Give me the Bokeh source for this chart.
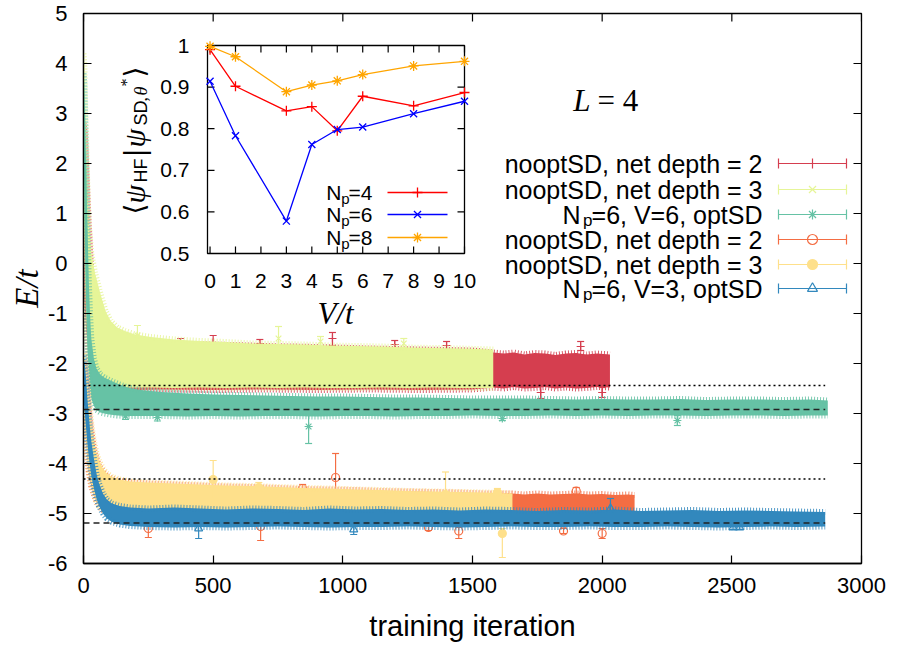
import numpy as np
from bokeh.plotting import figure
from bokeh.models import Range1d, FixedTicker
from bokeh.core.properties import value
from bokeh.embed import file_html
from bokeh.resources import INLINE

# ---------------- data ----------------
# main axes
XTICKS = [0, 500, 1000, 1500, 2000, 2500, 3000]
YTICKS = [-6, -5, -4, -3, -2, -1, 0, 1, 2, 3, 4, 5]

# series envelopes (training iteration, upper / lower edge of the noisy band)
A_IT = [0, 5, 10, 20, 30, 45, 60, 80, 110, 150, 200, 300, 500, 700, 900, 1100, 1300, 1500, 1580, 1620,
        1660, 1700, 1740, 1780, 1820, 1860, 1900, 1940, 1980, 2030]
A_HI = [2.8, 2.6, 2.0, 0.8, -0.2, -0.8, -1.1, -1.3, -1.42, -1.5, -1.55, -1.6, -1.62, -1.65, -1.67, -1.7, -1.72, -1.74, -1.78, -1.8,
        -1.78, -1.82, -1.79, -1.8, -1.83, -1.8, -1.79, -1.82, -1.8, -1.82]
A_LO = [-0.5, -0.9, -1.3, -1.8, -2.1, -2.3, -2.42, -2.48, -2.5, -2.52, -2.53, -2.52, -2.53, -2.52, -2.53, -2.52, -2.53, -2.52, -2.48, -2.5,
        -2.47, -2.5, -2.49, -2.47, -2.5, -2.48, -2.5, -2.49, -2.47, -2.48]

B_IT = [0, 3, 6, 10, 15, 20, 30, 45, 65, 85, 105, 130, 160, 200, 260, 350, 450, 550, 650, 750,
        850, 950, 1050, 1150, 1250, 1350, 1450, 1580]
B_HI = [4.2, 4.0, 3.3, 2.5, 1.5, 0.8, 0.2, -0.2, -0.6, -0.95, -1.15, -1.28, -1.35, -1.42, -1.47, -1.52, -1.55, -1.57, -1.6, -1.61,
        -1.62, -1.64, -1.65, -1.66, -1.68, -1.69, -1.7, -1.72]
B_LO = [1.5, 0.5, -0.3, -1.0, -1.5, -1.8, -2.1, -2.3, -2.4, -2.44, -2.46, -2.47, -2.48, -2.48, -2.48, -2.49, -2.48, -2.49, -2.48, -2.49,
        -2.48, -2.49, -2.49, -2.48, -2.49, -2.48, -2.49, -2.49]

C_IT = [0, 3, 6, 10, 15, 20, 25, 30, 40, 50, 65, 80, 100, 130, 170, 220, 300, 400, 500, 600,
        700, 800, 900, 1000, 1100, 1200, 1300, 1400, 1500, 1600, 1700, 1800, 1900, 2000, 2100, 2200, 2300, 2400, 2500, 2600,
        2700, 2800, 2870]
C_HI = [3.8, 3.6, 3.0, 2.0, 0.8, -0.3, -1.0, -1.5, -1.9, -2.1, -2.22, -2.28, -2.33, -2.4, -2.48, -2.53, -2.57, -2.6, -2.62, -2.63,
        -2.64, -2.65, -2.66, -2.66, -2.67, -2.68, -2.68, -2.69, -2.7, -2.7, -2.7, -2.71, -2.72, -2.71, -2.72, -2.72, -2.71, -2.73, -2.72, -2.72,
        -2.73, -2.72, -2.74]
C_LO = [2.2, 1.5, 0.3, -0.8, -1.7, -2.2, -2.5, -2.7, -2.85, -2.93, -2.98, -3.0, -3.02, -3.04, -3.05, -3.05, -3.05, -3.06, -3.05, -3.06,
        -3.05, -3.05, -3.06, -3.05, -3.05, -3.06, -3.05, -3.05, -3.04, -3.05, -3.05, -3.04, -3.05, -3.04, -3.05, -3.04, -3.04, -3.05, -3.04, -3.04,
        -3.05, -3.04, -3.04]

D_IT = [0, 5, 10, 15, 20, 30, 40, 50, 60, 75, 90, 110, 140, 180, 250, 350, 450, 550, 650, 750,
        850, 950, 1050, 1150, 1250, 1350, 1450, 1550, 1654, 1700, 1750, 1800, 1850, 1900, 1950, 2000, 2050, 2100, 2125]
D_HI = [-1.95, -2.1, -2.3, -2.6, -2.9, -3.35, -3.7, -3.9, -4.05, -4.15, -4.25, -4.3, -4.35, -4.38, -4.4, -4.42, -4.44, -4.46, -4.47, -4.49,
        -4.51, -4.52, -4.53, -4.55, -4.56, -4.57, -4.58, -4.6, -4.6, -4.62, -4.6, -4.62, -4.61, -4.6, -4.62, -4.61, -4.63, -4.62, -4.63]
D_LO = [-2.95, -3.25, -3.55, -3.85, -4.15, -4.45, -4.62, -4.77, -4.86, -4.93, -4.97, -5.0, -5.0, -5.0, -5.0, -5.0, -5.0, -5.0, -5.0, -5.0,
        -5.0, -5.0, -5.0, -5.0, -5.0, -5.0, -5.0, -5.0, -5.0, -5.0, -5.0, -5.0, -5.0, -5.0, -5.0, -5.0, -5.0, -5.0, -5.0]

E_IT = [0, 5, 10, 15, 20, 30, 40, 50, 60, 75, 90, 110, 140, 180, 250, 350, 450, 550, 650, 750,
        850, 950, 1050, 1150, 1250, 1350, 1450, 1550, 1654]
E_HI = [-1.8, -1.9, -2.1, -2.4, -2.7, -3.2, -3.55, -3.8, -3.95, -4.1, -4.2, -4.27, -4.32, -4.36, -4.38, -4.4, -4.42, -4.44, -4.45, -4.47,
        -4.49, -4.5, -4.52, -4.53, -4.55, -4.56, -4.57, -4.58, -4.6]
E_LO = [-2.9, -3.2, -3.5, -3.8, -4.1, -4.4, -4.6, -4.75, -4.85, -4.92, -4.97, -5.0, -5.02, -5.02, -5.02, -5.02, -5.02, -5.02, -5.02, -5.02,
        -5.02, -5.02, -5.02, -5.02, -5.02, -5.02, -5.02, -5.02, -5.02]

F_IT = [0, 5, 10, 15, 20, 25, 30, 40, 50, 60, 75, 90, 110, 140, 180, 250, 350, 450, 550, 650,
        750, 850, 950, 1050, 1150, 1250, 1350, 1450, 1550, 1650, 1750, 1850, 1950, 2050, 2150, 2250, 2350, 2450, 2550, 2650,
        2750, 2860]
F_HI = [-1.85, -2.0, -2.3, -2.7, -3.0, -3.3, -3.55, -3.9, -4.2, -4.4, -4.6, -4.72, -4.8, -4.85, -4.88, -4.9, -4.88, -4.9, -4.92, -4.9,
        -4.91, -4.93, -4.9, -4.92, -4.91, -4.93, -4.92, -4.94, -4.92, -4.93, -4.95, -4.93, -4.94, -4.92, -4.95, -4.94, -4.93, -4.95, -4.94, -4.95,
        -4.96, -4.97]
F_LO = [-2.7, -3.0, -3.3, -3.6, -3.85, -4.05, -4.25, -4.5, -4.7, -4.85, -5.0, -5.1, -5.17, -5.22, -5.25, -5.27, -5.28, -5.27, -5.28, -5.27,
        -5.26, -5.27, -5.28, -5.27, -5.27, -5.26, -5.27, -5.28, -5.27, -5.26, -5.27, -5.27, -5.26, -5.27, -5.27, -5.26, -5.27, -5.28, -5.27, -5.26,
        -5.27, -5.26]

# isolated points with visible error bars: iteration, value, lower, upper
A_OUT_IT = [180, 374, 500, 680, 960, 1200, 1400, 1763, 1917, 2000]
A_OUT_E = [-1.55, -1.58, -1.58, -1.6, -1.5, -1.62, -1.64, -2.58, -1.66, -2.58]
A_OUT_LO = [-1.65, -1.66, -1.68, -1.68, -1.64, -1.7, -1.72, -2.7, -1.74, -2.68]
A_OUT_HI = [-1.45, -1.5, -1.44, -1.52, -1.38, -1.54, -1.56, -2.46, -1.56, -2.48]

B_OUT_IT = [208, 752, 914, 1235]
B_OUT_E = [-1.44, -1.5, -1.56, -1.6]
B_OUT_LO = [-1.64, -1.72, -1.66, -1.68]
B_OUT_HI = [-1.24, -1.26, -1.46, -1.5]

C_OUT_IT = [162, 285, 868, 1615, 2290]
C_OUT_E = [-3.05, -3.08, -3.26, -3.1, -3.14]
C_OUT_LO = [-3.12, -3.15, -3.6, -3.14, -3.24]
C_OUT_HI = [-2.98, -3.0, -3.04, -3.04, -3.04]

D_OUT_IT = [250, 683, 845, 972, 1330, 1447, 1851, 1900, 2000]
D_OUT_E = [-5.3, -5.26, -4.5, -4.28, -5.28, -5.35, -5.35, -4.55, -5.4]
D_OUT_LO = [-5.48, -5.54, -4.58, -4.54, -5.34, -5.5, -5.4, -4.62, -5.5]
D_OUT_HI = [-5.24, -5.2, -4.42, -3.8, -5.22, -5.28, -5.3, -4.48, -5.3]

E_OUT_IT = [500, 676, 1396, 1596, 1615]
E_OUT_E = [-4.32, -4.48, -4.62, -4.58, -5.4]
E_OUT_LO = [-4.7, -4.56, -4.7, -4.66, -5.88]
E_OUT_HI = [-3.94, -4.38, -4.17, -4.5, -5.3]

F_OUT_IT = [444, 1042, 2032, 2505, 2530]
F_OUT_E = [-5.3, -5.32, -4.9, -5.28, -5.28]
F_OUT_LO = [-5.5, -5.42, -5.0, -5.32, -5.32]
F_OUT_HI = [-5.2, -5.25, -4.7, -5.22, -5.22]

# reference energies
DOTTED_E = [-2.44, -4.31]
DASHED_E = [-2.92, -5.19]
REF_END = 2860

SERIES_COLORS = ["#d53e4f", "#e6f598", "#66c2a5", "#f46d43", "#fee08b", "#3288bd"]
SERIES_MARKERS = ["cross", "x", "asterisk", "circle", "circle", "triangle"]
SERIES_FILLED = [False, False, False, False, True, False]
LEGEND_LABELS = ["nooptSD, net depth = 2", "nooptSD, net depth = 3", "=6, V=6, optSD",
                 "nooptSD, net depth = 2", "nooptSD, net depth = 3", "=6, V=3, optSD"]
LEGEND_NP = [False, False, True, False, False, True]

# inset
V_VALUES = [0, 1, 3, 4, 5, 6, 8, 10]
NP4 = [0.99, 0.902, 0.843, 0.853, 0.795, 0.878, 0.855, 0.887]
NP6 = [0.914, 0.783, 0.578, 0.762, 0.798, 0.804, 0.836, 0.866]
NP8 = [0.998, 0.973, 0.889, 0.905, 0.915, 0.93, 0.951, 0.962]
INSET_XTICKS = [0, 1, 2, 3, 4, 5, 6, 7, 8, 9, 10]
INSET_YTICKS = [0.5, 0.6, 0.7, 0.8, 0.9, 1.0]
INSET_YLABELS = ["0.5", "0.6", "0.7", "0.8", "0.9", "1"]
INSET_NAMES = ["=4", "=6", "=8"]
INSET_COLORS = ["#ff0000", "#0000ff", "#ffa500"]
INSET_MARKERS = ["cross", "x", "asterisk"]

# ---------------- layout geometry (pixels) ----------------
X0, X1, Y0, Y1 = 0, 3000, -6, 5
FX0, FX1, FY0, FY1 = 83, 861, 13, 563
IXMIN, IXMAX, IYMIN, IYMAX = -0.1, 10, 0.5, 1.0
IPX0, IPX1, IPY0, IPY1 = 207, 464, 45, 253


def mx(px):
    return X0 + (px - FX0) * (X1 - X0) / (FX1 - FX0)


def my(py):
    return Y1 - (py - FY0) * (Y1 - Y0) / (FY1 - FY0)


def ix(px):
    return IXMIN + (px - IPX0) * (IXMAX - IXMIN) / (IPX1 - IPX0)


def iy(py):
    return IYMAX - (py - IPY0) * (IYMAX - IYMIN) / (IPY1 - IPY0)


SANS = "Liberation Sans"
SERIF = "Liberation Serif"

p = figure(width=899, height=650, output_backend="svg", toolbar_location=None,
           x_range=Range1d(X0, X1), y_range=Range1d(Y0, Y1),
           min_border_left=FX0, min_border_right=899 - FX1,
           min_border_top=FY0, min_border_bottom=650 - FY1)
p.extra_x_ranges = {"ix": Range1d(ix(FX0), ix(FX1))}
p.extra_y_ranges = {"iy": Range1d(iy(FY1), iy(FY0))}
p.xgrid.visible = False
p.ygrid.visible = False
p.outline_line_color = "black"
p.outline_line_width = 1.3
p.background_fill_color = "white"
p.border_fill_color = "white"

for ax in (p.xaxis[0], p.yaxis[0]):
    ax.major_tick_in = 8
    ax.major_tick_out = 0
    ax.minor_tick_line_color = None
    ax.major_tick_line_color = "black"
    ax.major_tick_line_width = 1.2
    ax.axis_line_color = "black"
    ax.axis_line_width = 1.3
    ax.major_label_text_font = SANS
    ax.major_label_text_font_size = "22px"
    ax.major_label_text_color = "black"
    ax.axis_label_text_color = "black"
p.xaxis.major_label_standoff = 14
p.yaxis.major_label_standoff = 16
p.xaxis.ticker = FixedTicker(ticks=XTICKS)
p.yaxis.ticker = FixedTicker(ticks=YTICKS)
p.xaxis.major_label_overrides = {t: str(t) for t in XTICKS}
p.yaxis.major_label_overrides = {t: str(t) for t in YTICKS}
p.xaxis.axis_label = "training iteration"
p.xaxis.axis_label_text_font = SANS
p.xaxis.axis_label_text_font_style = "normal"
p.xaxis.axis_label_text_font_size = "29px"
p.xaxis.axis_label_standoff = 14
p.yaxis.axis_label = "E/t"
p.yaxis.axis_label_text_font = SERIF
p.yaxis.axis_label_text_font_style = "italic"
p.yaxis.axis_label_text_font_size = "33px"
p.yaxis.axis_label_standoff = 0

# mirror ticks (top and right)
tick_dy = 8 * (Y1 - Y0) / (FY1 - FY0)
tick_dx = 8 * (X1 - X0) / (FX1 - FX0)
xt = np.array(XTICKS, dtype=float)
yt = np.array(YTICKS, dtype=float)
p.segment(x0=xt, y0=np.full(len(xt), Y1), x1=xt, y1=np.full(len(xt), Y1 - tick_dy),
          line_color="black", line_width=1.2)
p.segment(x0=np.full(len(yt), X1), y0=yt, x1=np.full(len(yt), X1 - tick_dx), y1=yt,
          line_color="black", line_width=1.2)

cap = 3.5 * (X1 - X0) / (FX1 - FX0)


def errbars(its, es, lo, hi, color, marker, filled, size=8):
    its = np.array(its, dtype=float)
    p.segment(x0=its, y0=lo, x1=its, y1=hi, line_color=color, line_width=1.2)
    p.segment(x0=its - cap, y0=lo, x1=its + cap, y1=lo, line_color=color, line_width=1.2)
    p.segment(x0=its - cap, y0=hi, x1=its + cap, y1=hi, line_color=color, line_width=1.2)
    p.scatter(its, es, marker=marker, size=size, line_color=color, line_width=1.2,
              fill_color=color if filled else None)


bands = [(A_IT, A_LO, A_HI, A_OUT_IT, A_OUT_E, A_OUT_LO, A_OUT_HI),
         (B_IT, B_LO, B_HI, B_OUT_IT, B_OUT_E, B_OUT_LO, B_OUT_HI),
         (C_IT, C_LO, C_HI, C_OUT_IT, C_OUT_E, C_OUT_LO, C_OUT_HI),
         (D_IT, D_LO, D_HI, D_OUT_IT, D_OUT_E, D_OUT_LO, D_OUT_HI),
         (E_IT, E_LO, E_HI, E_OUT_IT, E_OUT_E, E_OUT_LO, E_OUT_HI),
         (F_IT, F_LO, F_HI, F_OUT_IT, F_OUT_E, F_OUT_LO, F_OUT_HI)]
for k, (it, lo, hi, oit, oe, olo, ohi) in enumerate(bands):
    c = SERIES_COLORS[k]
    p.varea(x=it, y1=lo, y2=hi, fill_color=c)
    # ragged (error-bar like) fringe along the band edges
    p.line(x=it, y=hi, line_color=c, line_width=6, line_dash="1 2", line_alpha=0.85)
    p.line(x=it, y=lo, line_color=c, line_width=6, line_dash="1 2", line_alpha=0.85)
    errbars(oit, oe, olo, ohi, c, SERIES_MARKERS[k], SERIES_FILLED[k])

# reference energies
for e in DOTTED_E:
    p.segment(x0=[0], y0=[e], x1=[REF_END], y1=[e], line_color="black", line_width=1.3, line_dash="2 3")
for e in DASHED_E:
    p.segment(x0=[0], y0=[e], x1=[REF_END], y1=[e], line_color="#222222", line_width=1.5, line_dash="6 4")

# ---------------- main legend ----------------
LEG_ROW_PX = [163, 189, 214, 239, 264, 288]
for k, lab in enumerate(LEGEND_LABELS):
    yy = my(LEG_ROW_PX[k])
    c = SERIES_COLORS[k]
    p.text(x=[mx(762)], y=[yy], text=[lab], text_font=value(SANS), text_font_size="25px",
           text_align="right", text_baseline="middle", text_color="black")
    if LEGEND_NP[k]:
        p.text(x=[mx(592)], y=[my(LEG_ROW_PX[k] + 6)], text=["p"], text_font=value(SANS),
               text_font_size="17px", text_align="right", text_baseline="middle", text_color="black")
        p.text(x=[mx(580)], y=[yy], text=["N"], text_font=value(SANS), text_font_size="25px",
               text_align="right", text_baseline="middle", text_color="black")
    p.segment(x0=[mx(778)], y0=[yy], x1=[mx(846)], y1=[yy], line_color=c, line_width=1.2)
    for ex in (778, 846):
        p.segment(x0=[mx(ex)], y0=[my(LEG_ROW_PX[k] - 5)], x1=[mx(ex)], y1=[my(LEG_ROW_PX[k] + 5)],
                  line_color=c, line_width=1.2)
    p.scatter([mx(812)], [yy], marker=SERIES_MARKERS[k], size=10, line_color=c, line_width=1.2,
              fill_color=c if SERIES_FILLED[k] else None)

# L = 4
p.text(x=[mx(590)], y=[my(100)], text=["L"], text_font=value(SERIF), text_font_style="italic",
       text_font_size="31px", text_align="right", text_baseline="alphabetic", text_color="black")
p.text(x=[mx(597)], y=[my(100)], text=["= 4"], text_font=value(SERIF), text_font_size="31px",
       text_align="left", text_baseline="alphabetic", text_color="black")

# ---------------- inset ----------------
I = dict(x_range_name="ix", y_range_name="iy")
p.quad(left=[IXMIN], right=[IXMAX], bottom=[IYMIN], top=[IYMAX], fill_color="white",
       line_color="black", line_width=1.3, **I)
tlx = 7 * (IXMAX - IXMIN) / (IPX1 - IPX0)
tly = 7 * (IYMAX - IYMIN) / (IPY1 - IPY0)
ixt = np.array(INSET_XTICKS, dtype=float)
iyt = np.array(INSET_YTICKS, dtype=float)
p.segment(x0=ixt, y0=np.full(len(ixt), IYMIN), x1=ixt, y1=np.full(len(ixt), IYMIN + tly),
          line_color="black", line_width=1.2, **I)
p.segment(x0=ixt, y0=np.full(len(ixt), IYMAX), x1=ixt, y1=np.full(len(ixt), IYMAX - tly),
          line_color="black", line_width=1.2, **I)
p.segment(x0=np.full(len(iyt), IXMIN), y0=iyt, x1=np.full(len(iyt), IXMIN + tlx), y1=iyt,
          line_color="black", line_width=1.2, **I)
p.segment(x0=np.full(len(iyt), IXMAX), y0=iyt, x1=np.full(len(iyt), IXMAX - tlx), y1=iyt,
          line_color="black", line_width=1.2, **I)
p.text(x=ixt, y=np.full(len(ixt), iy(280)), text=[str(t) for t in INSET_XTICKS],
       text_font=value(SANS), text_font_size="21px", text_align="center", text_baseline="middle",
       text_color="black", **I)
p.text(x=np.full(len(iyt), ix(189)), y=iyt, text=INSET_YLABELS,
       text_font=value(SANS), text_font_size="21px", text_align="right", text_baseline="middle",
       text_color="black", **I)

for ys, c, m in zip([NP4, NP6, NP8], INSET_COLORS, INSET_MARKERS):
    p.line(V_VALUES, ys, line_color=c, line_width=1.3, **I)
    p.scatter(V_VALUES, ys, marker=m, size=10, line_color=c, line_width=1.3, fill_color=None, **I)

# inset legend
INSET_ROW_PX = [192, 214, 237]
for k in range(3):
    yy = iy(INSET_ROW_PX[k])
    p.text(x=[ix(372)], y=[yy], text=[INSET_NAMES[k]], text_font=value(SANS), text_font_size="21px",
           text_align="right", text_baseline="middle", text_color="black", **I)
    p.text(x=[ix(349)], y=[iy(INSET_ROW_PX[k] + 6)], text=["p"], text_font=value(SANS), text_font_size="15px",
           text_align="right", text_baseline="middle", text_color="black", **I)
    p.text(x=[ix(341)], y=[yy], text=["N"], text_font=value(SANS), text_font_size="21px",
           text_align="right", text_baseline="middle", text_color="black", **I)
    p.segment(x0=[ix(387)], y0=[yy], x1=[ix(447)], y1=[yy], line_color=INSET_COLORS[k], line_width=1.3, **I)
    p.scatter([ix(417)], [yy], marker=INSET_MARKERS[k], size=10, line_color=INSET_COLORS[k],
              line_width=1.3, fill_color=None, **I)

# inset axis labels
p.text(x=[ix(335)], y=[iy(313)], text=["V/t"], text_font=value(SERIF), text_font_style="italic",
       text_font_size="31px", text_align="center", text_baseline="middle", text_color="black", **I)

# rotated y label <psi_HF | psi_SD,theta*>
MAIN_BX, SUB_BX, SUP_BX = 134, 140, 126
pieces = [("\u27e8", 214, MAIN_BX, "DejaVu Serif", "normal", "28px"),
          ("\u03c8", 203, MAIN_BX, SERIF, "italic", "30px"),
          ("HF", 182, SUB_BX, SANS, "normal", "18px"),
          ("|", 157, MAIN_BX, "DejaVu Serif", "normal", "28px"),
          ("\u03c8", 147, MAIN_BX, SERIF, "italic", "30px"),
          ("SD", 125, SUB_BX, SANS, "normal", "18px"),
          (",", 101, SUB_BX, SERIF, "normal", "18px"),
          ("\u03b8", 95, SUB_BX, SERIF, "italic", "18px"),
          ("*", 86, SUP_BX, SERIF, "normal", "16px"),
          ("\u27e9", 77, MAIN_BX, "DejaVu Serif", "normal", "28px")]
for txt, py, bx, fnt, sty, sz in pieces:
    p.text(x=[mx(bx)], y=[my(py)], text=[txt], angle=np.pi / 2, text_font=value(fnt),
           text_font_style=sty, text_font_size=sz, text_align="left", text_baseline="alphabetic",
           text_color="black")

open("out.html", "w").write(file_html(p, INLINE))
